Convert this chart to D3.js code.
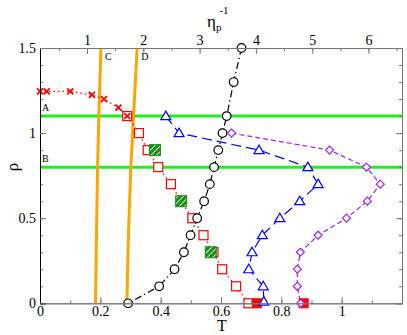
<!DOCTYPE html>
<html>
<head>
<meta charset="utf-8">
<script src="https://cdn.jsdelivr.net/npm/d3@7"></script>
<style>
  body { margin: 0; background: #fff; }
  svg text { font-family: "Liberation Serif", "DejaVu Serif", serif; }
</style>
</head>
<body>
<svg id="chart"></svg>
<script>
// red crosses (upper branch)
var crossT = [0, 0.022, 0.10, 0.172, 0.212, 0.26, 0.289];
var crossRho = [1.245, 1.245, 1.245, 1.224, 1.20, 1.15, 1.10];
// red open squares
var sqT = [0.289, 0.328, 0.357, 0.392, 0.434, 0.468, 0.505, 0.542, 0.575, 0.604, 0.650, 0.691];
var sqRho = [1.1, 1.0, 0.9, 0.8, 0.7, 0.6, 0.5, 0.4, 0.3, 0.2, 0.1, 0.0];
// green hatched squares
var greenT = [0.381, 0.468, 0.566];
var greenRho = [0.9, 0.6, 0.3];
// filled red squares
var fillT = [0.719, 0.874];
var fillRho = [0, 0];
// black circles
var circT = [0.668, 0.642, 0.619, 0.605, 0.591, 0.577, 0.563, 0.544, 0.521, 0.499, 0.477, 0.446, 0.395, 0.292];
var circRho = [1.5, 1.3, 1.1, 1.0, 0.9, 0.8, 0.7, 0.6, 0.5, 0.4, 0.3, 0.2, 0.1, 0.0];
// blue triangles
var triT = [0.417, 0.461, 0.726, 0.888, 0.922, 0.861, 0.795, 0.737, 0.703, 0.692, 0.740, 0.742];
var triRho = [1.1, 1.0, 0.9, 0.8, 0.7, 0.6, 0.5, 0.4, 0.3, 0.2, 0.1, 0.01];
// purple diamonds
var diaT = [0.635, 0.960, 1.082, 1.128, 1.085, 1.016, 0.922, 0.863, 0.853, 0.853, 0.864];
var diaRho = [1.0, 0.9, 0.8, 0.7, 0.6, 0.5, 0.4, 0.3, 0.2, 0.1, 0.0];
// orange lines C and D
var lineCT = [0.202, 0.195, 0.191, 0.187, 0.184];
var lineCRho = [1.5, 1.1, 0.8, 0.4, 0];
var lineDT = [0.322, 0.31, 0.301, 0.293, 0.288];
var lineDRho = [1.5, 1.1, 0.8, 0.4, 0];
// horizontal green lines
var hLines = [{rho: 1.1, label: "A"}, {rho: 0.8, label: "B"}];

var xTicks = [0, 0.2, 0.4, 0.6, 0.8, 1];
var topTicks = [1, 2, 3, 4, 5, 6];
var yTicks = [0, 0.5, 1, 1.5];

var svgWidth = 407, svgHeight = 335;
var margin = { top: 48, right: 5, bottom: 32, left: 40 };
var purple = "#a020f0";

var svg = d3.select('#chart')
    .attr("width", svgWidth)
    .attr("height", svgHeight)
    .style("font-family", "'Liberation Serif', 'DejaVu Serif', serif");

var x = d3.scaleLinear().domain([0, 1.2]).range([margin.left, svgWidth - margin.right]);
var xTop = d3.scaleLinear().domain([0.165, 6.595]).range([margin.left, svgWidth - margin.right]);
var y = d3.scaleLinear().domain([0, 1.5]).range([303.3, margin.top]);

function zip(a, b) { return a.map(function(v, i) { return {t: v, r: b[i]}; }); }

// hatch pattern for green squares
var pat = svg.append("defs").append("pattern")
    .attr("id", "hatch")
    .attr("patternUnits", "userSpaceOnUse")
    .attr("width", 4).attr("height", 4)
    .attr("patternTransform", "rotate(45)");
pat.append("rect").attr("width", 4).attr("height", 4).attr("fill", "#1a8c1a");
pat.append("line").attr("x1", 0).attr("y1", 0).attr("x2", 0).attr("y2", 4)
    .attr("stroke", "#fff").attr("stroke-width", 1.6);

var line = d3.line().x(function(d) { return x(d.t); }).y(function(d) { return y(d.r); });

// green horizontal lines
svg.selectAll(".hline").data(hLines).enter().append("line")
    .attr("x1", x(0)).attr("x2", x(1.2))
    .attr("y1", function(d) { return y(d.rho); })
    .attr("y2", function(d) { return y(d.rho); })
    .attr("stroke", "#22ee22").attr("stroke-width", 3);
svg.selectAll(".hlab").data(hLines).enter().append("text")
    .attr("x", 42).attr("y", function(d) { return y(d.rho) - 5; })
    .attr("font-size", 10).text(function(d) { return d.label; });

// orange lines
[[lineCT, lineCRho, "C"], [lineDT, lineDRho, "D"]].forEach(function(l) {
  var pts = zip(l[0], l[1]);
  svg.append("path").datum(pts)
      .attr("fill", "none").attr("stroke", "#ffa500").attr("stroke-width", 3)
      .attr("d", line);
  svg.append("text").attr("x", x(pts[0].t) + 4).attr("y", 60)
      .attr("font-size", 10).text(l[2]);
});

// series lines
var redPts = zip(crossT, crossRho).concat(zip(sqT, sqRho).slice(1));
svg.append("path").datum(redPts).attr("fill", "none").attr("stroke", "red")
    .attr("stroke-width", 1.2).attr("stroke-dasharray", "1.5,3").attr("d", line);
svg.append("path").datum(zip(circT, circRho)).attr("fill", "none").attr("stroke", "#000")
    .attr("stroke-width", 1.2).attr("stroke-dasharray", "7,3,1.5,3").attr("d", line);
svg.append("path").datum(zip(triT, triRho)).attr("fill", "none").attr("stroke", "blue")
    .attr("stroke-width", 1.2).attr("stroke-dasharray", "10,5").attr("d", line);
svg.append("path").datum(zip(diaT, diaRho)).attr("fill", "none").attr("stroke", purple)
    .attr("stroke-width", 1.2).attr("stroke-dasharray", "5,3").attr("d", line);

// markers
svg.selectAll(".sq").data(zip(sqT, sqRho)).enter().append("rect")
    .attr("x", function(d) { return x(d.t) - 4.5; }).attr("y", function(d) { return y(d.r) - 4.5; })
    .attr("width", 9).attr("height", 9)
    .attr("fill", "#fff").attr("stroke", "red").attr("stroke-width", 1.2);
svg.selectAll(".cross").data(zip(crossT, crossRho)).enter().append("path")
    .attr("transform", function(d) { return "translate(" + x(d.t) + "," + y(d.r) + ")"; })
    .attr("d", "M-3,-3L3,3M-3,3L3,-3")
    .attr("stroke", "red").attr("stroke-width", 1.8);
svg.selectAll(".green").data(zip(greenT, greenRho)).enter().append("rect")
    .attr("x", function(d) { return x(d.t) - 5.5; }).attr("y", function(d) { return y(d.r) - 5.5; })
    .attr("width", 11).attr("height", 11)
    .attr("fill", "url(#hatch)").attr("stroke", "#1a8c1a").attr("stroke-width", 1);
svg.selectAll(".fill").data(zip(fillT, fillRho)).enter().append("rect")
    .attr("x", function(d) { return x(d.t) - 4.5; }).attr("y", function(d) { return y(d.r) - 4.5; })
    .attr("width", 9).attr("height", 9)
    .attr("fill", "red").attr("stroke", "red");
svg.selectAll(".circ").data(zip(circT, circRho)).enter().append("circle")
    .attr("cx", function(d) { return x(d.t); }).attr("cy", function(d) { return y(d.r); })
    .attr("r", 4.3).attr("fill", "#fff").attr("stroke", "#000").attr("stroke-width", 1.2);
svg.selectAll(".tri").data(zip(triT, triRho)).enter().append("path")
    .attr("transform", function(d) { return "translate(" + x(d.t) + "," + y(d.r) + ")"; })
    .attr("d", "M0,-5L5,3.5L-5,3.5Z")
    .attr("fill", "#fff").attr("stroke", "blue").attr("stroke-width", 1.2);
svg.selectAll(".dia").data(zip(diaT, diaRho)).enter().append("path")
    .attr("transform", function(d) { return "translate(" + x(d.t) + "," + y(d.r) + ")"; })
    .attr("d", "M0,-4L4,0L0,4L-4,0Z")
    .attr("fill", "#fff").attr("stroke", purple).attr("stroke-width", 1.2);

/*
Axes (ticks point inward)
*/
function styleAxis(g, col) {
  g.attr("font-family", null);
  g.select(".domain").attr("stroke", col);
  g.selectAll(".tick line").attr("stroke", "#777");
  g.selectAll("text").attr("font-size", 14).attr("fill", "#000");
}
var fmt = function(d) { return String(d); };

var gb = svg.append("g").attr("transform", "translate(0," + y(0) + ")");
gb.call(d3.axisBottom(x).tickValues(d3.range(0, 1.21, 0.1)).tickSize(-3).tickFormat(""));
gb.call(function(g) { styleAxis(g, "#777"); });
var gb2 = svg.append("g").attr("transform", "translate(0," + y(0) + ")");
gb2.call(d3.axisBottom(x).tickValues(xTicks).tickSize(-6).tickPadding(3).tickFormat(fmt));
gb2.call(function(g) { styleAxis(g, "#777"); });

var gt = svg.append("g").attr("transform", "translate(0," + y(1.5) + ")");
gt.call(d3.axisTop(xTop).tickValues(d3.range(0.5, 6.6, 0.5)).tickSize(-3).tickFormat(""));
gt.call(function(g) { styleAxis(g, "#777"); });
var gt2 = svg.append("g").attr("transform", "translate(0," + y(1.5) + ")");
gt2.call(d3.axisTop(xTop).tickValues(topTicks).tickSize(-6).tickPadding(3).tickFormat(fmt));
gt2.call(function(g) { styleAxis(g, "#777"); });

var gl = svg.append("g").attr("transform", "translate(" + x(0) + ",0)");
gl.call(d3.axisLeft(y).tickValues(d3.range(0, 1.51, 0.1)).tickSize(-3).tickFormat(""));
gl.call(function(g) { styleAxis(g, "#000"); });
var gl2 = svg.append("g").attr("transform", "translate(" + x(0) + ",0)");
gl2.call(d3.axisLeft(y).tickValues(yTicks).tickSize(-6).tickPadding(4).tickFormat(fmt));
gl2.call(function(g) { styleAxis(g, "#000"); });

var gr = svg.append("g").attr("transform", "translate(" + x(1.2) + ",0)");
gr.call(d3.axisRight(y).tickValues(d3.range(0, 1.51, 0.1)).tickSize(-3).tickFormat(""));
gr.call(function(g) { styleAxis(g, "#777"); });
var gr2 = svg.append("g").attr("transform", "translate(" + x(1.2) + ",0)");
gr2.call(d3.axisRight(y).tickValues(yTicks).tickSize(-6).tickFormat(""));
gr2.call(function(g) { styleAxis(g, "#777"); });

// axis titles
svg.append("text").attr("x", 222).attr("y", 331).attr("text-anchor", "middle")
    .attr("font-size", 16).text("T");
svg.append("text").attr("transform", "translate(18," + y(0.8) + ") rotate(-90)")
    .attr("text-anchor", "middle").attr("font-size", 17).text("ρ");
var eta = svg.append("text").attr("x", 207).attr("y", 27).attr("font-size", 17);
eta.append("tspan").text("η");
eta.append("tspan").attr("font-size", 11).attr("dy", 4).text("p");
eta.append("tspan").attr("font-size", 11).attr("dx", -2).attr("dy", -17).text("-1");
</script>
</body>
</html>
